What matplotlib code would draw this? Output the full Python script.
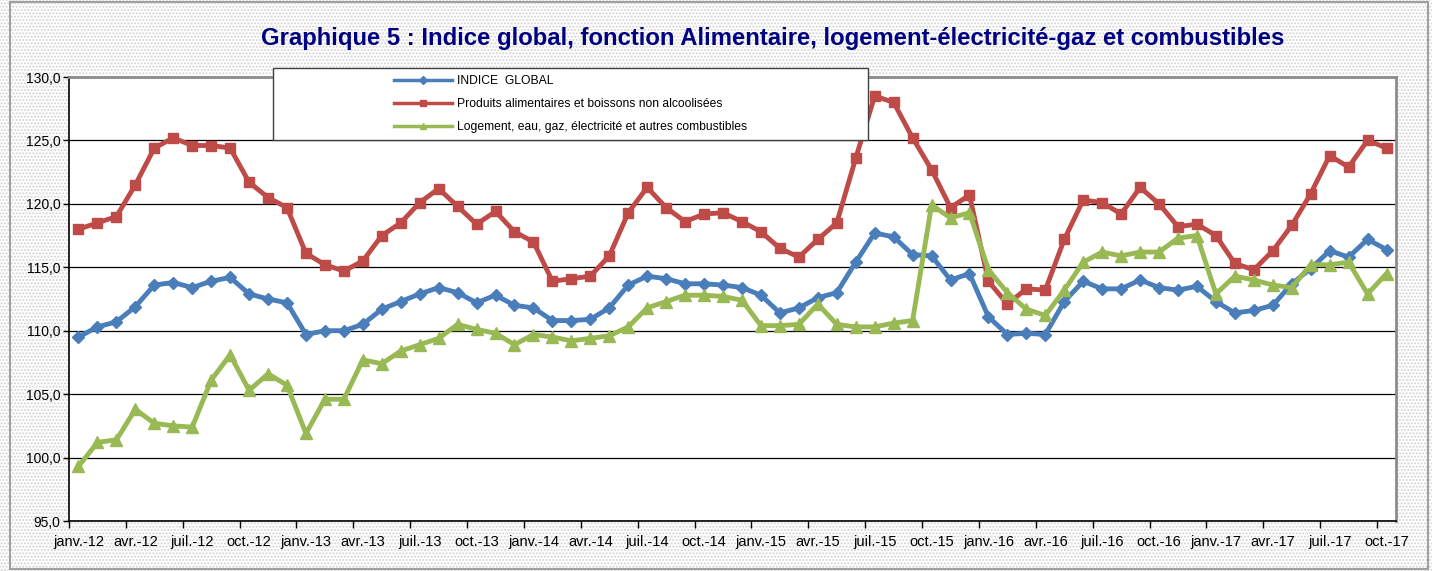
import numpy as np
import matplotlib
matplotlib.use('Agg')
import matplotlib.pyplot as plt
from matplotlib.patches import Rectangle
from matplotlib.lines import Line2D

plt.rcParams['font.family'] = ['Liberation Sans', 'DejaVu Sans']

# mois janv.-12 ... oct.-17
mois = ['janv.', 'févr.', 'mars', 'avr.', 'mai', 'juin',
        'juil.', 'août', 'sept.', 'oct.', 'nov.', 'déc.']
annees = ['12', '13', '14', '15', '16', '17']
categories = [f'{m}-{a}' for a in annees for m in mois][:70]

indice_global = [109.5, 110.3, 110.7, 111.9, 113.6, 113.8, 113.4, 113.9, 114.2, 112.9,
                 112.5, 112.2, 109.7, 110.0, 110.0, 110.5, 111.7, 112.3, 112.9, 113.4,
                 113.0, 112.2, 112.8, 112.0, 111.8, 110.8, 110.8, 110.9, 111.8, 113.6,
                 114.3, 114.1, 113.7, 113.7, 113.6, 113.4, 112.8, 111.4, 111.8, 112.6,
                 113.0, 115.4, 117.7, 117.4, 116.0, 115.9, 114.0, 114.5, 111.1, 109.7,
                 109.8, 109.7, 112.3, 113.9, 113.3, 113.3, 114.0, 113.4, 113.2, 113.5,
                 112.3, 111.4, 111.6, 112.0, 113.7, 114.9, 116.3, 115.8, 117.2, 116.4]

alimentaires = [118.0, 118.5, 119.0, 121.5, 124.4, 125.2, 124.6, 124.6, 124.4, 121.7,
                120.5, 119.7, 116.1, 115.2, 114.7, 115.5, 117.5, 118.5, 120.1, 121.2,
                119.8, 118.4, 119.4, 117.8, 117.0, 113.9, 114.1, 114.3, 115.9, 119.3,
                121.3, 119.7, 118.6, 119.2, 119.3, 118.6, 117.8, 116.5, 115.8, 117.2,
                118.5, 123.6, 128.5, 128.0, 125.2, 122.7, 119.7, 120.7, 113.9, 112.1,
                113.3, 113.2, 117.2, 120.3, 120.1, 119.2, 121.3, 120.0, 118.2, 118.4,
                117.5, 115.3, 114.8, 116.3, 118.3, 120.8, 123.8, 122.9, 125.0, 124.4]

logement = [99.3, 101.2, 101.4, 103.8, 102.7, 102.5, 102.4, 106.1, 108.1, 105.3,
            106.6, 105.7, 101.9, 104.6, 104.6, 107.7, 107.4, 108.4, 108.9, 109.4,
            110.5, 110.1, 109.8, 108.9, 109.7, 109.5, 109.2, 109.4, 109.6, 110.3,
            111.8, 112.3, 112.8, 112.8, 112.7, 112.4, 110.4, 110.4, 110.5, 112.1,
            110.5, 110.3, 110.3, 110.6, 110.8, 119.9, 118.9, 119.3, 114.8, 113.0,
            111.7, 111.2, 113.2, 115.4, 116.2, 115.9, 116.2, 116.2, 117.3, 117.5,
            112.9, 114.3, 114.0, 113.6, 113.4, 115.2, 115.2, 115.4, 112.9, 114.5]

noms = ['INDICE  GLOBAL',
        'Produits alimentaires et boissons non alcoolisées',
        'Logement, eau, gaz, électricité et autres combustibles']
couleurs = ['#4A7EBB', '#BE4B48', '#98B954']

W, H = 1432, 571
fig = plt.figure(figsize=(W / 100, H / 100), dpi=100, facecolor='white')

# fond pointillé + cadre
fig.patches.append(Rectangle((0, 0), 1, 1, transform=fig.transFigure,
                             facecolor='white', edgecolor='#d4d4d4', hatch='.....',
                             linewidth=0, zorder=-10))
fig.patches.append(Rectangle((10 / W, 2 / H), 1418 / W, 567 / H, transform=fig.transFigure,
                             facecolor='none', edgecolor='#a0a0a0', linewidth=1.5, zorder=-9))

ax = fig.add_axes([69 / W, 1 - 521 / H, (1396 - 69) / W, (521 - 77) / H])
ax.set_facecolor('white')

x = np.arange(len(categories))
ax.plot(x, indice_global, color=couleurs[0], lw=3.5, marker='D', ms=6, zorder=3)
ax.plot(x, alimentaires, color=couleurs[1], lw=3.5, marker='s', ms=6.5, zorder=3)
ax.plot(x, logement, color=couleurs[2], lw=3.5, marker='^', ms=8, zorder=3)

ax.set_xlim(-0.5, len(categories) - 0.5)
ax.set_ylim(95, 130)
ax.set_yticks(np.arange(95, 131, 5))
ax.set_yticklabels([f'{v:.1f}'.replace('.', ',') for v in np.arange(95, 131, 5)], fontsize=10)
ax.yaxis.grid(True, color='black', lw=0.9)
ax.set_axisbelow(True)

ax.set_xticks(np.arange(-0.5, len(categories), 3))
ax.set_xticklabels([])
ax.set_xticks(np.arange(0, len(categories), 3), minor=True)
ax.set_xticklabels(categories[::3], minor=True, fontsize=10.5)
ax.tick_params(axis='x', which='major', length=5, width=1, direction='out')
ax.tick_params(axis='x', which='minor', length=0, pad=10)
ax.tick_params(axis='y', length=4, width=1, direction='out', pad=2)

for s in ['left', 'bottom']:
    ax.spines[s].set_color('black')
    ax.spines[s].set_linewidth(1.2)
for s in ['top', 'right']:
    ax.spines[s].set_color('#8c8c8c')
    ax.spines[s].set_linewidth(2)

fig.text(773 / W, 1 - 38 / H,
         'Graphique 5 : Indice global, fonction Alimentaire, logement-électricité-gaz et combustibles',
         ha='center', va='center', fontsize=17.2, fontweight='bold', color='#000080')

# légende
fig.patches.append(Rectangle((273 / W, 1 - 140 / H), (868 - 273) / W, 72 / H,
                             transform=fig.transFigure, facecolor='white',
                             edgecolor='#404040', linewidth=1, zorder=5))
poignees = [Line2D([], [], color=couleurs[0], lw=2.5, marker='D', ms=4),
            Line2D([], [], color=couleurs[1], lw=2.5, marker='s', ms=5),
            Line2D([], [], color=couleurs[2], lw=2.5, marker='^', ms=5)]
leg = fig.legend(poignees, noms, loc='upper left',
                 bbox_to_anchor=(394 / W, 1 - 75 / H), bbox_transform=fig.transFigure,
                 frameon=False, fontsize=8.7, handlelength=4.8, handletextpad=0.4,
                 labelspacing=0.9, borderpad=0, borderaxespad=0)
leg.set_zorder(6)

fig.savefig('out.png', dpi=100, facecolor='white')
